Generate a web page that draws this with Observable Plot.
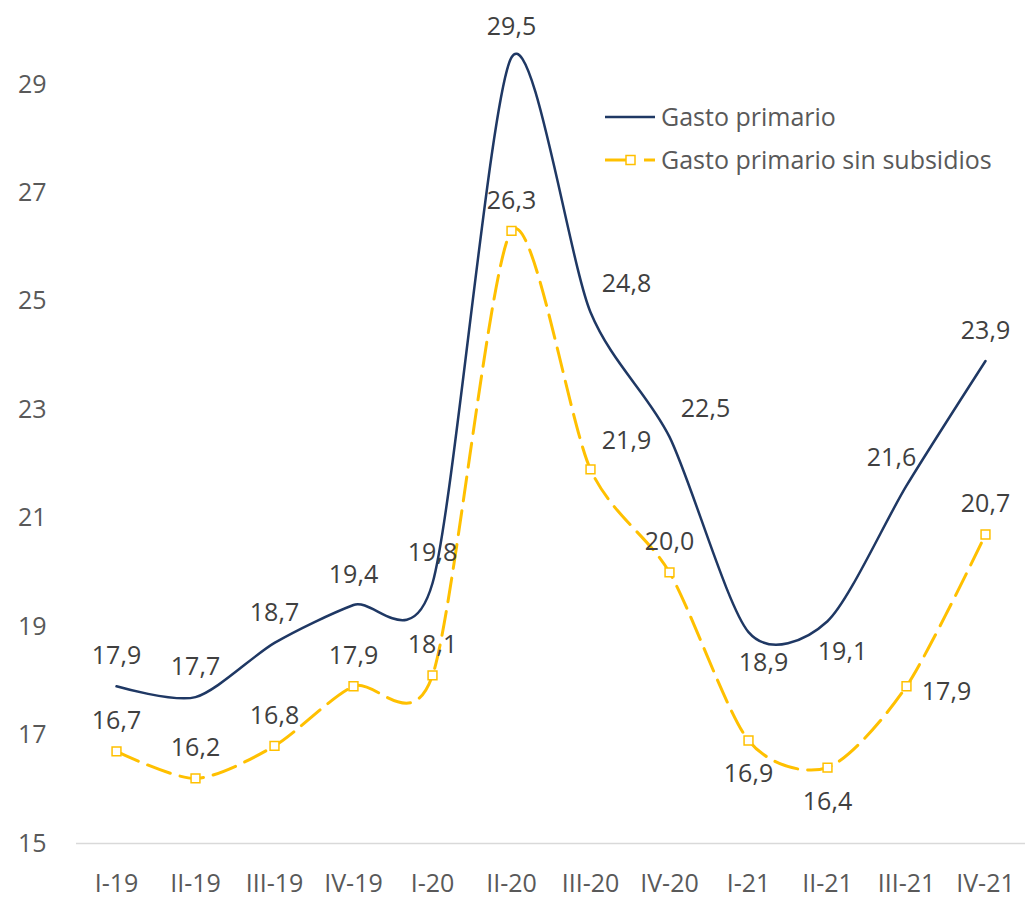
<!DOCTYPE html>
<html>
<head>
<meta charset="utf-8">
<script src="https://cdn.jsdelivr.net/npm/d3@7"></script>
<script src="https://cdn.jsdelivr.net/npm/@observablehq/plot@0.6"></script>
<style>
  body { margin: 0; background: #fff; font-family: "Open Sans", sans-serif; }
  #chart { position: relative; width: 1029px; height: 902px; }
  .legend { position: absolute; left: 604px; top: 95px; color: #595959; font-size: 25px; line-height: 43px; }
  .legend-row { display: flex; align-items: center; white-space: nowrap; }
  .legend-row svg { margin-right: 5px; }
</style>
</head>
<body>
<div id="chart"></div>
<script>
// Quarterly labels
const quarters = ["I-19", "II-19", "III-19", "IV-19", "I-20", "II-20", "III-20", "IV-20", "I-21", "II-21", "III-21", "IV-21"];

// Series values
const gastoPrimario = [17.9, 17.7, 18.7, 19.4, 19.8, 29.5, 24.8, 22.5, 18.9, 19.1, 21.6, 23.9];
const gastoSinSubsidios = [16.7, 16.2, 16.8, 17.9, 18.1, 26.3, 21.9, 20.0, 16.9, 16.4, 17.9, 20.7];

// Y axis ticks
const yTicks = [15, 17, 19, 21, 23, 25, 27, 29];

// Where each value label sits relative to its point
const placePrimario = ["above", "above", "above", "above", "above", "above", "aboveRight", "aboveRight", "belowRight", "belowRight", "aboveLeft", "above"];
const placeSinSubsidios = ["above", "above", "above", "above", "above", "above", "aboveRight", "above", "below", "below", "right", "above"];

const nombres = ["Gasto primario", "Gasto primario sin subsidios"];
const colores = ["#1f3864", "#ffc000"];

const offsets = {
  above: [0, -30],
  below: [0, 34],
  right: [40, 6],
  aboveRight: [36, -28],
  aboveLeft: [-15, -28],
  belowRight: [15, 31]
};

const rowsPrim = quarters.map((q, i) => ({q, v: gastoPrimario[i], place: placePrimario[i]}));
const rowsSin = quarters.map((q, i) => ({q, v: gastoSinSubsidios[i], place: placeSinSubsidios[i]}));
const allRows = rowsPrim.concat(rowsSin);

const fmt = v => d3.format(".1f")(v).replace(".", ",");

const labelMarks = Object.entries(offsets).map(([key, [dx, dy]]) =>
  Plot.text(allRows.filter(d => d.place === key), {
    x: "q", y: "v", text: d => fmt(d.v), dx, dy,
    fill: "#404040", fontSize: 25
  })
);

const chart = Plot.plot({
  width: 1029,
  height: 902,
  marginLeft: 76,
  marginRight: 4,
  marginTop: 0,
  marginBottom: 59,
  style: { fontFamily: "'Open Sans', sans-serif", fontSize: "25px", color: "#595959", background: "#fff" },
  x: { type: "point", domain: quarters, padding: 0.5, label: null },
  y: { domain: [15, 29], range: [843, 84], label: null },
  marks: [
    Plot.ruleY([15], { stroke: "#d9d9d9", strokeWidth: 1.5 }),
    Plot.axisY({ ticks: yTicks, tickSize: 0, tickPadding: 30, tickFormat: d => String(d), label: null, fontSize: 25 }),
    Plot.axisX({ tickSize: 0, tickPadding: 31, label: null, fontSize: 25 }),
    Plot.line(rowsPrim, { x: "q", y: "v", stroke: colores[0], strokeWidth: 2.5, curve: "cardinal", tension: 0.2 }),
    Plot.line(rowsSin, { x: "q", y: "v", stroke: colores[1], strokeWidth: 3, strokeDasharray: "24,10", curve: "cardinal", tension: 0.2 }),
    Plot.dot(rowsSin, { x: "q", y: "v", symbol: "square", r: 5, stroke: colores[1], fill: "white", strokeWidth: 1.5 }),
    ...labelMarks
  ]
});

const container = document.getElementById("chart");
container.appendChild(chart);

// Legend placed over the upper right of the plot area
const legend = document.createElement("div");
legend.className = "legend";
legend.innerHTML = `
  <div class="legend-row">
    <svg width="52" height="12"><line x1="1" x2="51" y1="6" y2="6" stroke="${colores[0]}" stroke-width="2.5"/></svg>
    <span>${nombres[0]}</span>
  </div>
  <div class="legend-row">
    <svg width="52" height="12">
      <line x1="1" x2="22" y1="6" y2="6" stroke="${colores[1]}" stroke-width="3"/>
      <line x1="40" x2="51" y1="6" y2="6" stroke="${colores[1]}" stroke-width="3"/>
      <rect x="22" y="1.5" width="9" height="9" fill="white" stroke="${colores[1]}" stroke-width="1.5"/>
    </svg>
    <span>${nombres[1]}</span>
  </div>`;
container.appendChild(legend);
</script>
</body>
</html>
